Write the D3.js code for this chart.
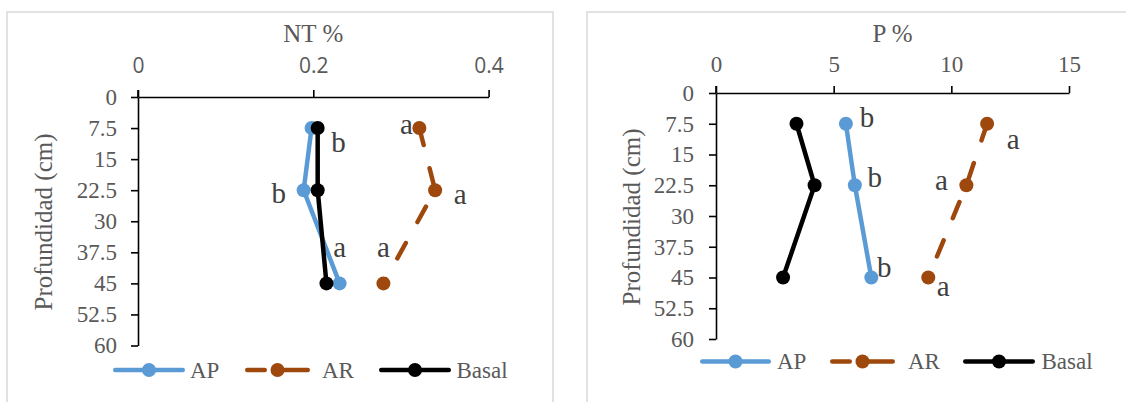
<!DOCTYPE html>
<html>
<head>
<meta charset="utf-8">
<script src="https://cdn.jsdelivr.net/npm/d3@7/dist/d3.min.js"></script>
<style>
  html, body { margin: 0; padding: 0; background: #fff; }
  svg { display: block; }
</style>
</head>
<body>
<svg id="chart" width="1126" height="402"></svg>
<script>
// ---------------- DATA ----------------
const depths = [7.5, 22.5, 45];
const depthTicks = [0, 7.5, 15, 22.5, 30, 37.5, 45, 52.5, 60];
const seriesNames = ["AP", "AR", "Basal"];

// NT %
const ntTicks = [0, 0.2, 0.4];
const ntAP = [0.198, 0.189, 0.230];
const ntAR = [0.321, 0.339, 0.280];
const ntBasal = [0.205, 0.205, 0.215];
const ntAPLetters = ["b", "b", "a"];
const ntARLetters = ["a", "a", "a"];

// P %
const pTicks = [0, 5, 10, 15];
const pAP = [5.52, 5.90, 6.60];
const pAR = [11.52, 10.64, 9.02];
const pBasal = [3.42, 4.19, 2.85];
const pAPLetters = ["b", "b", "b"];
const pARLetters = ["a", "a", "a"];

// ---------------- STYLE ----------------
const colors = { AP: "#5B9BD5", AR: "#9E480E", Basal: "#000000" };
const serif = "'Liberation Serif', 'Times New Roman', serif";
const sans = "'Open Sans', 'Noto Sans', sans-serif";
const textGray = "#595959";
const labelGray = "#404040";
const LW = 4.5, R = 7;

const svg = d3.select("#chart");

function drawPanel(cfg) {
  const g = svg.append("g");
  // panel frame
  g.append("rect")
    .attr("x", cfg.frame[0]).attr("y", cfg.frame[1])
    .attr("width", cfg.frame[2]).attr("height", cfg.frame[3])
    .attr("fill", "none").attr("stroke", "#d9d9d9").attr("stroke-width", 1.5);

  const x = d3.scaleLinear().domain([cfg.ticks[0], cfg.ticks[cfg.ticks.length - 1]]).range(cfg.xRange);
  const y = d3.scaleLinear().domain([0, 60]).range(cfg.yRange);

  // x axis (top)
  const xa = g.append("g").attr("transform", `translate(0,${y(0)})`)
    .call(d3.axisTop(x).tickValues(cfg.ticks).tickSize(7).tickSizeOuter(0).tickPadding(cfg.xPad)
      .tickFormat(d => String(d)));
  xa.select(".domain").attr("stroke", "#000").attr("stroke-width", 1.6);
  xa.selectAll(".tick line").attr("stroke", "#000").attr("stroke-width", 1.6);
  xa.selectAll(".tick text").attr("fill", textGray).style("font-family", cfg.xFont)
    .style("font-size", cfg.xFontSize + "px");

  // y axis (left)
  const ya = g.append("g").attr("transform", `translate(${x(0)},0)`)
    .call(d3.axisLeft(y).tickValues(depthTicks).tickSize(7).tickSizeOuter(0).tickPadding(cfg.yPad)
      .tickFormat(d => String(d)));
  ya.select(".domain").attr("stroke", "#000").attr("stroke-width", 1.6);
  ya.selectAll(".tick line").attr("stroke", "#000").attr("stroke-width", 1.6);
  ya.selectAll(".tick text").attr("fill", textGray).style("font-family", serif)
    .style("font-size", "23px");
  // tick above x-axis at 0 (y-axis extends upward)
  g.append("line").attr("x1", x(0)).attr("x2", x(0)).attr("y1", y(0) - 7).attr("y2", y(0))
    .attr("stroke", "#000").attr("stroke-width", 1.6);

  // titles
  g.append("text").attr("x", (cfg.xRange[0] + cfg.xRange[1]) / 2).attr("y", cfg.titleY)
    .attr("text-anchor", "middle").attr("fill", textGray)
    .style("font-family", serif).style("font-size", "25px").text(cfg.title);
  g.append("text")
    .attr("transform", `translate(${cfg.yTitleX},${cfg.yTitleY}) rotate(-90)`)
    .attr("text-anchor", "middle").attr("fill", textGray)
    .style("font-family", serif).style("font-size", "25px").text("Profundidad (cm)");

  // series
  const line = d3.line().x(d => x(d[0])).y(d => y(d[1]));
  cfg.series.forEach(s => {
    const pts = s.values.map((v, i) => [v, depths[i]]);
    g.append("path").datum(pts).attr("d", line)
      .attr("fill", "none").attr("stroke", colors[s.name]).attr("stroke-width", LW)
      .attr("stroke-linecap", "round").attr("stroke-linejoin", "round")
      .attr("stroke-dasharray", s.name === "AR" ? "17.5 24" : null);
    g.selectAll(null).data(pts).enter().append("circle")
      .attr("cx", d => x(d[0])).attr("cy", d => y(d[1])).attr("r", R)
      .attr("fill", colors[s.name]);
  });

  // letters
  cfg.letters.forEach(L => {
    L.letters.forEach((t, i) => {
      const off = L.offsets[i];
      const base = t === "a" ? 0.23 : 0.34;
      g.append("text")
        .attr("x", x(L.values[i]) + off[0])
        .attr("y", y(depths[i]) + off[1] + base * 29)
        .attr("text-anchor", "middle").attr("fill", labelGray)
        .style("font-family", serif).style("font-size", "29px").text(t);
    });
  });

  // legend
  cfg.legend.forEach((item, i) => {
    const [x1, x2] = item.span;
    const cy = cfg.legendY;
    const cx = (x1 + x2) / 2;
    const ln = g.append("line")
      .attr("x1", x1 + LW / 2).attr("x2", x2 - LW / 2).attr("y1", cy).attr("y2", cy)
      .attr("stroke", colors[item.name]).attr("stroke-width", LW).attr("stroke-linecap", "round");
    if (item.name === "AR") ln.attr("stroke-dasharray", "17.5 11.5 60");
    g.append("circle").attr("cx", cx).attr("cy", cy).attr("r", R).attr("fill", colors[item.name]);
    g.append("text").attr("x", item.textX).attr("y", cy + 0.33 * 23)
      .attr("fill", textGray).style("font-family", serif).style("font-size", "23px").text(item.name);
  });
}

drawPanel({
  frame: [7, 12, 546, 420],
  ticks: ntTicks,
  xRange: [138, 488.6],
  yRange: [97, 345.5],
  xFont: sans, xFontSize: 21, xPad: 17, yPad: 14,
  title: "NT %", titleY: 41.5,
  yTitleX: 52, yTitleY: 222,
  series: [
    { name: "AP", values: ntAP },
    { name: "AR", values: ntAR },
    { name: "Basal", values: ntBasal }
  ],
  letters: [
    { values: ntAP, letters: ntAPLetters, offsets: [[27, 14], [-25, 3], [0, -33]] },
    { values: ntAR, letters: ntARLetters, offsets: [[-13, -1], [25, 7], [0, -33]] }
  ],
  legendY: 370,
  legend: [
    { name: "AP", span: [113, 185], textX: 190 },
    { name: "AR", span: [245, 310], textX: 322 },
    { name: "Basal", span: [379, 451], textX: 456.5 }
  ]
});

drawPanel({
  frame: [587, 12, 560, 420],
  ticks: pTicks,
  xRange: [716, 1069],
  yRange: [93, 339],
  xFont: serif, xFontSize: 23, xPad: 14, yPad: 15,
  title: "P %", titleY: 41.5,
  yTitleX: 640, yTitleY: 217,
  series: [
    { name: "AP", values: pAP },
    { name: "AR", values: pAR },
    { name: "Basal", values: pBasal }
  ],
  letters: [
    { values: pAP, letters: pAPLetters, offsets: [[21, -7], [20, -8], [13, -10]] },
    { values: pAR, letters: pARLetters, offsets: [[26, 19], [-25, -2], [15, 12]] }
  ],
  legendY: 361.5,
  legend: [
    { name: "AP", span: [700, 771], textX: 777 },
    { name: "AR", span: [830, 895], textX: 908 },
    { name: "Basal", span: [963, 1035], textX: 1041.5 }
  ]
});
</script>
</body>
</html>
